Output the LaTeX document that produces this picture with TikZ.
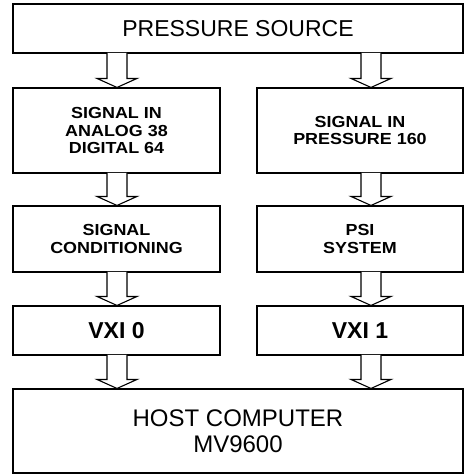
\documentclass[tikz,border=0pt]{standalone}
\usepackage{fontspec}
\setmainfont{Liberation Sans}
\newfontfamily\widebf[FakeStretch=1.12]{Liberation Sans Bold}
\usetikzlibrary{calc}
\tikzset{
  blk/.style={draw, line width=1.1pt, align=center, inner sep=2pt},
  smalltxt/.style={font=\fontsize{16}{17.5}\widebf},
  arrowbody/.style={draw, fill=white, line width=1.1pt, line join=miter},
}
% hollow block arrow: from node #1 down to node #2, along the x of coordinate #3
\newcommand{\flowarrow}[3]{\path[arrowbody] let \p1=(#1.south -| #3), \p2=(#2.north -| #3) in
  (\x1-10pt,\y1+0.8pt) -- (\x1-10pt,\y2+9pt) -- (\x1-20pt,\y2+9pt) -- (\x2,\y2) -- (\x1+20pt,\y2+9pt) -- (\x1+10pt,\y2+9pt) -- (\x1+10pt,\y1+0.8pt);}

\begin{document}
\begin{tikzpicture}[x=1pt, y=-1pt]
\useasboundingbox (0,0) rectangle (464,475);
\coordinate (cl) at (117,0); \coordinate (cr) at (371,0);
\node[blk, minimum width=450pt, minimum height=49pt, font=\fontsize{23}{25}\selectfont] (src) at (238,28.5) {PRESSURE SOURCE};
\node[blk, smalltxt, minimum width=207pt, minimum height=85pt] (in0) at (116.5,130.5) {SIGNAL IN\\ANALOG 38\\DIGITAL 64};
\node[blk, smalltxt, minimum width=206pt, minimum height=85pt] (in1) at (360,130.5) {SIGNAL IN\\PRESSURE 160};
\node[blk, smalltxt, minimum width=207pt, minimum height=66pt] (cond0) at (116.5,239) {SIGNAL\\CONDITIONING};
\node[blk, smalltxt, minimum width=206pt, minimum height=66pt] (cond1) at (360,239) {PSI\\SYSTEM};
\node[blk, minimum width=207pt, minimum height=49pt, font=\fontsize{23}{25}\selectfont\bfseries] (vxi0) at (116.5,330.5) {VXI 0};
\node[blk, minimum width=206pt, minimum height=49pt, font=\fontsize{23}{25}\selectfont\bfseries] (vxi1) at (360,330.5) {VXI 1};
\node[blk, minimum width=450pt, minimum height=84pt, font=\fontsize{24}{26}\selectfont] (host) at (238,431) {HOST COMPUTER\\MV9600};
\flowarrow{src}{in0}{cl} \flowarrow{src}{in1}{cr}
\flowarrow{in0}{cond0}{cl} \flowarrow{in1}{cond1}{cr}
\flowarrow{cond0}{vxi0}{cl} \flowarrow{cond1}{vxi1}{cr}
\flowarrow{vxi0}{host}{cl} \flowarrow{vxi1}{host}{cr}
\end{tikzpicture}
\end{document}
